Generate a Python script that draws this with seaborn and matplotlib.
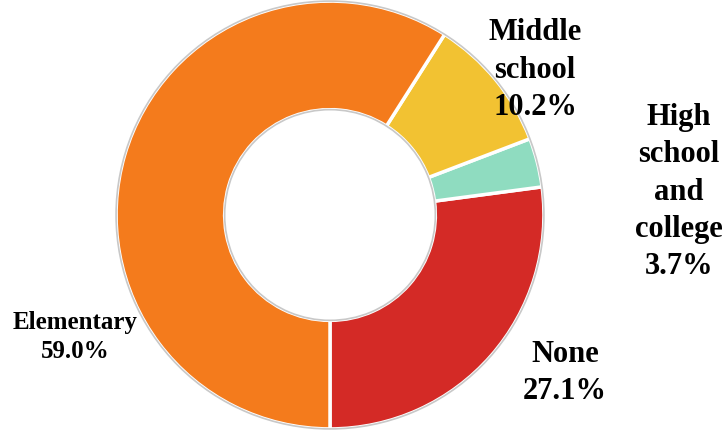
import matplotlib
matplotlib.use("Agg")
import matplotlib.pyplot as plt
import seaborn as sns

categories = ["None", "High school and college", "Middle school", "Elementary"]
values = [27.1, 3.7, 10.2, 59.0]
labels = ["None\n27.1%", "High\nschool\nand\ncollege\n3.7%", "Middle\nschool\n10.2%", "Elementary\n59.0%"]
colors = ["#d42a26", "#8fdcc0", "#f2c232", "#f47b1c"]

sns.set_theme(style="white")
plt.rcParams["font.family"] = ["Liberation Serif", "DejaVu Serif"]

W, H = 726, 430
fig = plt.figure(figsize=(W / 100, H / 100), dpi=100)
ax = fig.add_axes([115 / W, 0, 430 / W, 1])
wedges, _ = ax.pie(values, colors=colors, startangle=-90, counterclock=True,
                   radius=0.995,
                   wedgeprops=dict(width=0.505, edgecolor="white", linewidth=2.5))
for w in wedges:
    w.set_joinstyle("miter")
ax.pie([1], colors=["none"], radius=0.995, startangle=-90,
       wedgeprops=dict(width=0.505, edgecolor="#c8c8c8", linewidth=1.2, fill=False))
ax.set_xlim(-1, 1)
ax.set_ylim(-1, 1)
ax.set_aspect("equal")
ax.axis("off")

pos = {
    "None": (565, 373, 22, 1.4),
    "High school and college": (679, 192, 22, 1.38),
    "Middle school": (535, 70, 22, 1.4),
    "Elementary": (75, 337, 18, 1.3),
}
for cat, lab in zip(categories, labels):
    px, py, fs, ls = pos[cat]
    fig.text(px / W, 1 - py / H, lab, ha="center", va="center",
             fontsize=fs, fontweight="bold", color="black", linespacing=ls)

fig.savefig("out.png", dpi=100)
